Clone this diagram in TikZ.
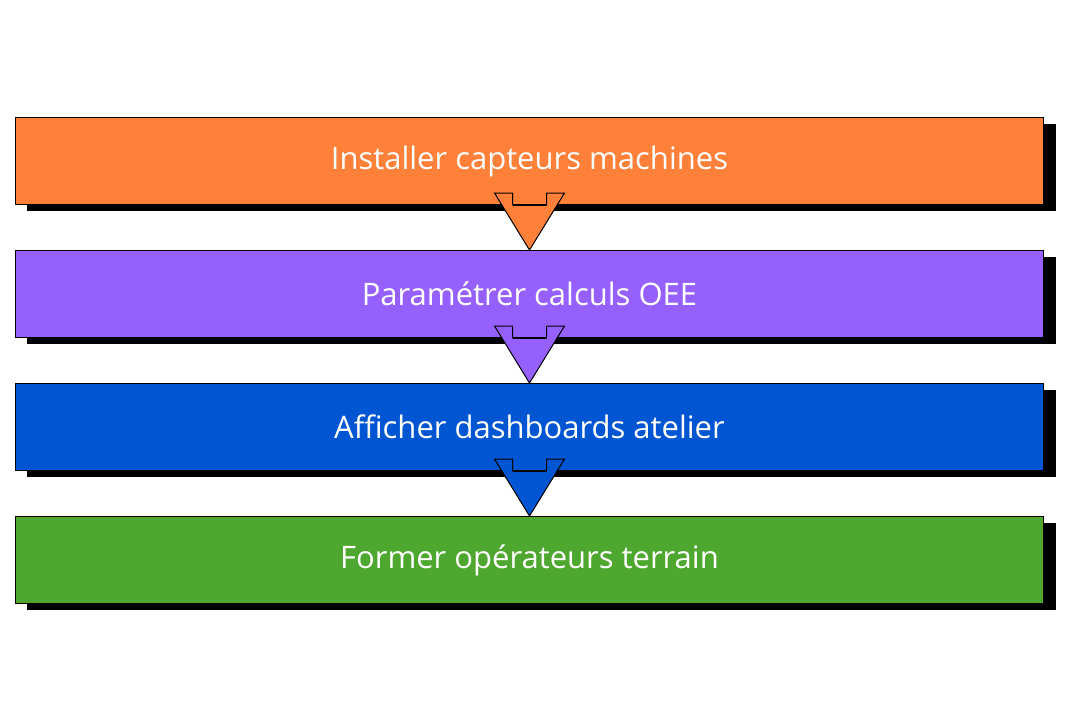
\documentclass[tikz,border=0pt]{standalone}
\usepackage{fontspec}
\setmainfont{Open Sans}
\definecolor{c1}{HTML}{FF8038}
\definecolor{c2}{HTML}{9660FF}
\definecolor{c3}{HTML}{0055D2}
\definecolor{c4}{HTML}{4EA72E}
\begin{document}
\begin{tikzpicture}[x=1pt,y=-1pt,
  stepbox/.style={draw=black,line width=1pt,minimum width=1028pt,minimum height=87pt,inner sep=0pt,text=white,font=\fontsize{31}{36}\selectfont,anchor=north west}]
\useasboundingbox (0,0) rectangle (1080,720);
\foreach \y in {117,250,383,516}{\fill[black] (27,\y+7) rectangle (1056,\y+94);}
\node[stepbox,fill=c1] (b1) at (15,117) {Installer capteurs machines};
\node[stepbox,fill=c2] (b2) at (15,250) {Paramétrer calculs OEE};
\node[stepbox,fill=c3] (b3) at (15,383) {Afficher dashboards atelier};
\node[stepbox,fill=c4] (b4) at (15,516) {Former opérateurs terrain};
\foreach \a/\b/\c in {b1/b2/c1,b2/b3/c2,b3/b4/c3}{
  \path (\a.south) coordinate (s) (\b.north) coordinate (t);
  \fill[\c] ([xshift=-17pt,yshift=-1pt]s) -- ([xshift=-17pt,yshift=12pt]s) -- ([xshift=-35pt,yshift=12pt]s) -- (t) -- ([xshift=35pt,yshift=12pt]s) -- ([xshift=17pt,yshift=12pt]s) -- ([xshift=17pt,yshift=-1pt]s) -- cycle;
  \draw[line width=1pt,line join=miter] ([xshift=-17pt,yshift=0.5pt]s) -- ([xshift=-17pt,yshift=12pt]s) -- ([xshift=-35pt,yshift=12pt]s) -- (t) -- ([xshift=35pt,yshift=12pt]s) -- ([xshift=17pt,yshift=12pt]s) -- ([xshift=17pt,yshift=0.5pt]s);
}
\end{tikzpicture}
\end{document}
